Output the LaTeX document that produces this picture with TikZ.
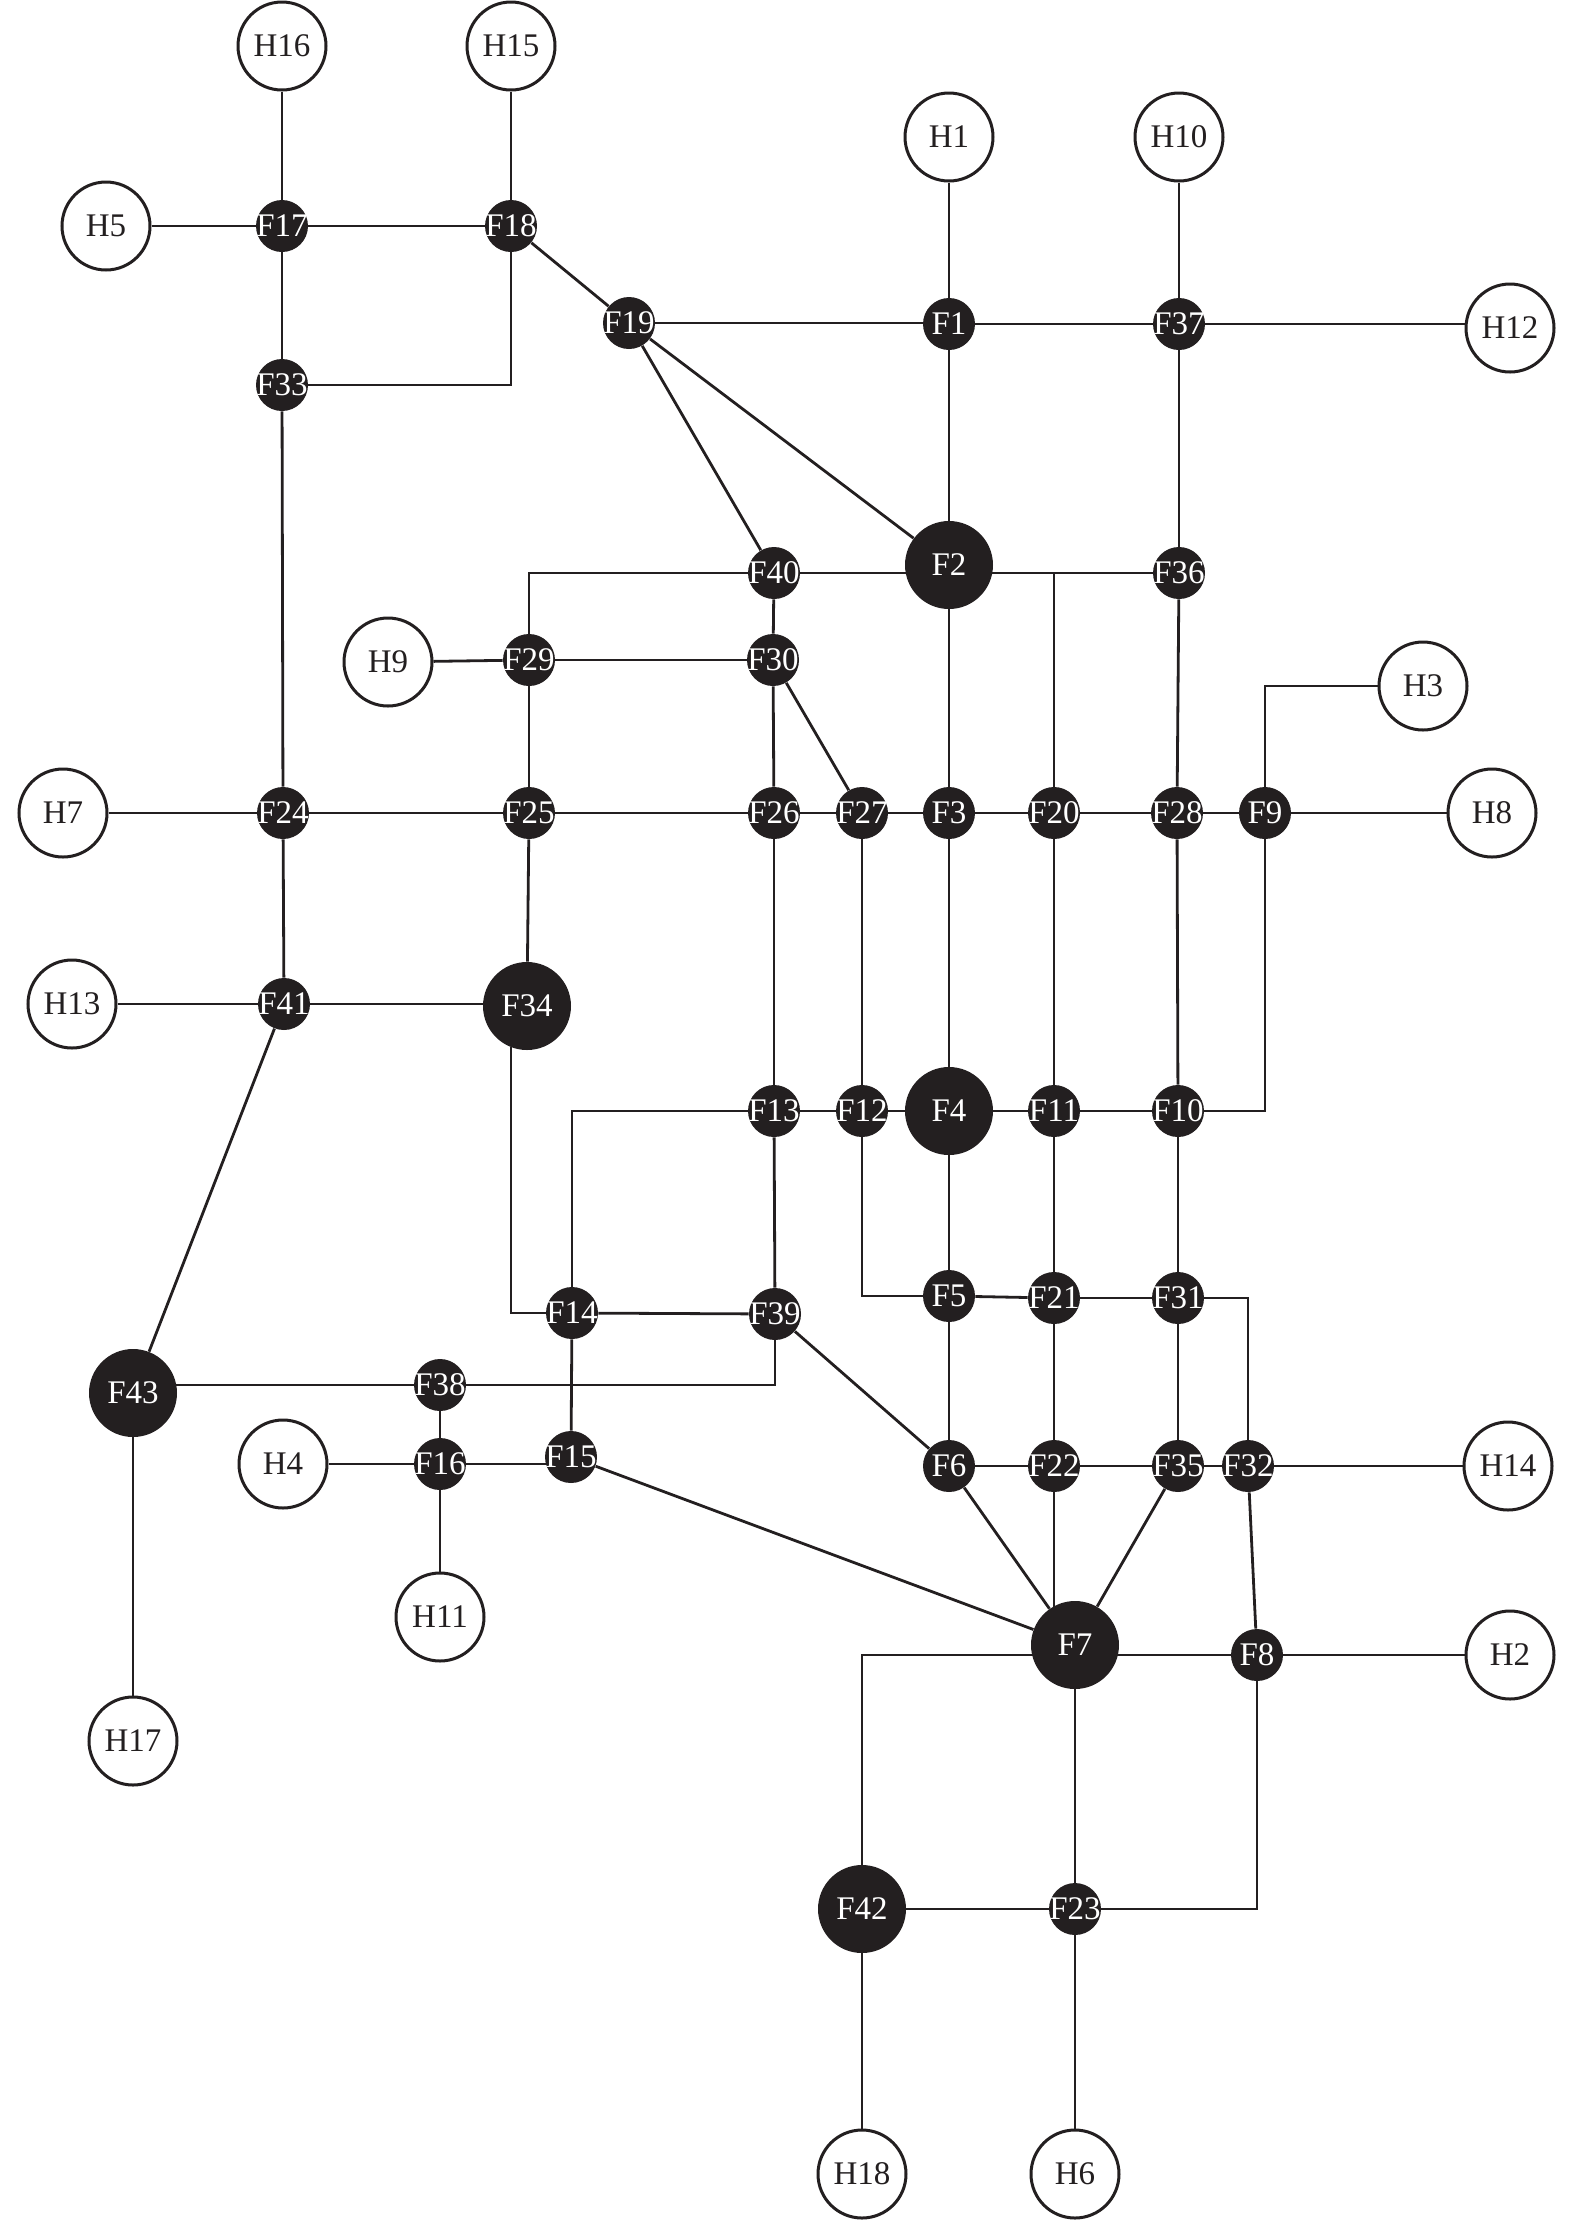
\documentclass[tikz,border=0pt]{standalone}
\usepackage{fontspec}
\setmainfont{Liberation Serif}
\usetikzlibrary{backgrounds}
\definecolor{ink}{RGB}{35,31,32}
\begin{document}
\begin{tikzpicture}[x=0.5pt,y=-0.5pt,
  hnode/.style={circle,draw=ink,line width=1.5pt,fill=white,minimum size=44pt,inner sep=0pt,text=ink,font=\fontsize{16.5}{18}\selectfont},
  fnode/.style={circle,fill=ink,minimum size=26pt,inner sep=0pt,text=white,font=\fontsize{16.5}{18}\selectfont},
  fbig/.style={fnode,minimum size=44pt},
  edge/.style={draw=ink,line width=1.4pt}]
\useasboundingbox (0,0) rectangle (1575,2224);
% H nodes
\node[hnode] (H16) at (282,46) {H16};
\node[hnode] (H15) at (511,46) {H15};
\node[hnode] (H5) at (106,226) {H5};
\node[hnode] (H1) at (949,137) {H1};
\node[hnode] (H10) at (1179,137) {H10};
\node[hnode] (H12) at (1510,328) {H12};
\node[hnode] (H9) at (388,662) {H9};
\node[hnode] (H3) at (1423,686) {H3};
\node[hnode] (H7) at (63,813) {H7};
\node[hnode] (H8) at (1492,813) {H8};
\node[hnode] (H13) at (72,1004) {H13};
\node[hnode] (H4) at (283,1464) {H4};
\node[hnode] (H14) at (1508,1466) {H14};
\node[hnode] (H11) at (440,1617) {H11};
\node[hnode] (H2) at (1510,1655) {H2};
\node[hnode] (H17) at (133,1741) {H17};
\node[hnode] (H18) at (862,2174) {H18};
\node[hnode] (H6) at (1075,2174) {H6};
% F nodes
\node[fnode] (F17) at (282,226) {\makebox[0pt]{F17}};
\node[fnode] (F18) at (511,226) {\makebox[0pt]{F18}};
\node[fnode] (F19) at (629,323) {\makebox[0pt]{F19}};
\node[fnode] (F33) at (282,385) {\makebox[0pt]{F33}};
\node[fnode] (F1) at (949,324) {\makebox[0pt]{F1}};
\node[fnode] (F37) at (1179,324) {\makebox[0pt]{F37}};
\node[fbig] (F2) at (949,565) {F2};
\node[fnode] (F40) at (774,573) {\makebox[0pt]{F40}};
\node[fnode] (F36) at (1179,573) {\makebox[0pt]{F36}};
\node[fnode] (F29) at (529,660) {\makebox[0pt]{F29}};
\node[fnode] (F30) at (773,660) {\makebox[0pt]{F30}};
\node[fnode] (F24) at (283,813) {\makebox[0pt]{F24}};
\node[fnode] (F25) at (529,813) {\makebox[0pt]{F25}};
\node[fnode] (F26) at (774,813) {\makebox[0pt]{F26}};
\node[fnode] (F27) at (862,813) {\makebox[0pt]{F27}};
\node[fnode] (F3) at (949,813) {\makebox[0pt]{F3}};
\node[fnode] (F20) at (1054,813) {\makebox[0pt]{F20}};
\node[fnode] (F28) at (1177,813) {\makebox[0pt]{F28}};
\node[fnode] (F9) at (1265,813) {\makebox[0pt]{F9}};
\node[fnode] (F41) at (284,1004) {\makebox[0pt]{F41}};
\node[fbig] (F34) at (527,1006) {F34};
\node[fnode] (F13) at (774,1111) {\makebox[0pt]{F13}};
\node[fnode] (F12) at (862,1111) {\makebox[0pt]{F12}};
\node[fbig] (F4) at (949,1111) {F4};
\node[fnode] (F11) at (1054,1111) {\makebox[0pt]{F11}};
\node[fnode] (F10) at (1178,1111) {\makebox[0pt]{F10}};
\node[fnode] (F5) at (949,1296) {\makebox[0pt]{F5}};
\node[fnode] (F21) at (1054,1298) {\makebox[0pt]{F21}};
\node[fnode] (F31) at (1178,1298) {\makebox[0pt]{F31}};
\node[fnode] (F14) at (572,1313) {\makebox[0pt]{F14}};
\node[fnode] (F39) at (775,1314) {\makebox[0pt]{F39}};
\node[fbig] (F43) at (133,1393) {F43};
\node[fnode] (F38) at (440,1385) {\makebox[0pt]{F38}};
\node[fnode] (F16) at (440,1464) {\makebox[0pt]{F16}};
\node[fnode] (F15) at (571,1457) {\makebox[0pt]{F15}};
\node[fnode] (F6) at (949,1466) {\makebox[0pt]{F6}};
\node[fnode] (F22) at (1054,1466) {\makebox[0pt]{F22}};
\node[fnode] (F35) at (1178,1466) {\makebox[0pt]{F35}};
\node[fnode] (F32) at (1248,1466) {\makebox[0pt]{F32}};
\node[fbig] (F7) at (1075,1645) {F7};
\node[fnode] (F8) at (1257,1655) {\makebox[0pt]{F8}};
\node[fbig] (F42) at (862,1909) {F42};
\node[fnode] (F23) at (1075,1909) {\makebox[0pt]{F23}};
% edges
\begin{scope}[on background layer]
\draw[edge] (H16) -- (F17);
\draw[edge] (H5) -- (F17);
\draw[edge] (F17) -- (F18);
\draw[edge] (H15) -- (F18);
\draw[edge] (F17) -- (F33);
\draw[edge] (F18) |- (F33);
\draw[edge] (F18) -- (F19);
\draw[edge] (F19) -- (F19 -| F1);
\draw[edge] (F19) -- (F40);
\draw[edge] (F19) -- (F2);
\draw[edge] (H1) -- (F1);
\draw[edge] (F1) -- (F37);
\draw[edge] (H10) -- (F37);
\draw[edge] (F37) -- (F37 -| H12.west);
\draw[edge] (F1) -- (F2);
\draw[edge] (F37) -- (F36);
\draw[edge] (F40) -- (F36);
\draw[edge] (F20) |- (F36);
\draw[edge] (F40) -| (F29);
\draw[edge] (F40) -- (F30);
\draw[edge] (H9) -- (F29);
\draw[edge] (F29) -- (F30);
\draw[edge] (F29) -- (F25);
\draw[edge] (F30) -- (F26);
\draw[edge] (F30) -- (F27);
\draw[edge] (H7) -- (F24);
\draw[edge] (F33) -- (F24);
\draw[edge] (F24) -- (F25);
\draw[edge] (F25) -- (F26);
\draw[edge] (F26) -- (F27);
\draw[edge] (F27) -- (F3);
\draw[edge] (F3) -- (F20);
\draw[edge] (F20) -- (F28);
\draw[edge] (F28) -- (F9);
\draw[edge] (F9) -- (H8);
\draw[edge] (F9) |- (H3);
\draw[edge] (F2) -- (F3);
\draw[edge] (F36) -- (F28);
\draw[edge] (F24) -- (F41);
\draw[edge] (H13) -- (F41);
\draw[edge] (F41) -- (F41 -| F34);
\draw[edge] (F25) -- (F34);
\draw[edge] (F41) -- (F43);
\draw[edge] (F34.249) |- (F14);
\draw[edge] (F26) -- (F13);
\draw[edge] (F27) -- (F12);
\draw[edge] (F3) -- (F4);
\draw[edge] (F20) -- (F11);
\draw[edge] (F28) -- (F10);
\draw[edge] (F13) -- (F12);
\draw[edge] (F12) -- (F4);
\draw[edge] (F4) -- (F11);
\draw[edge] (F11) -- (F10);
\draw[edge] (F10) -| (F9);
\draw[edge] (F13) -| (F14);
\draw[edge] (F13) -- (F39);
\draw[edge] (F14) -- (F39);
\draw[edge] (F14) -- (F15);
\draw[edge] (F12) |- (F5);
\draw[edge] (F4) -- (F5);
\draw[edge] (F5) -- (F21);
\draw[edge] (F11) -- (F21);
\draw[edge] (F21) -- (F31);
\draw[edge] (F10) -- (F31);
\draw[edge] (F31) -| (F32);
\draw[edge] (F39) -- (F6);
\draw[edge] (F5) -- (F6);
\draw[edge] (F21) -- (F22);
\draw[edge] (F31) -- (F35);
\draw[edge] (F6) -- (F22);
\draw[edge] (F22) -- (F35);
\draw[edge] (F35) -- (F32);
\draw[edge] (F32) -- (H14);
\draw[edge] (F6) -- (F7);
\draw[edge] (F22) -- (F22 |- F7);
\draw[edge] (F35) -- (F7);
\draw[edge] (F15) -- (F7);
\draw[edge] (F32) -- (F8);
\draw[edge] (F42) |- (F8);
\draw[edge] (F8) -- (H2);
\draw[edge] (F7) -- (F23);
\draw[edge] (F23) -| (F8);
\draw[edge] (F42) -- (F23);
\draw[edge] (F42) -- (H18);
\draw[edge] (F23) -- (H6);
\draw[edge] (F38) -- (F38 -| F43);
\draw[edge] (F38) -| (F39);
\draw[edge] (F43) -- (H17);
\draw[edge] (F38) -- (F16);
\draw[edge] (H4) -- (F16);
\draw[edge] (F16) -- (F16 -| F15);
\draw[edge] (F16) -- (H11);
\end{scope}
\end{tikzpicture}
\end{document}
